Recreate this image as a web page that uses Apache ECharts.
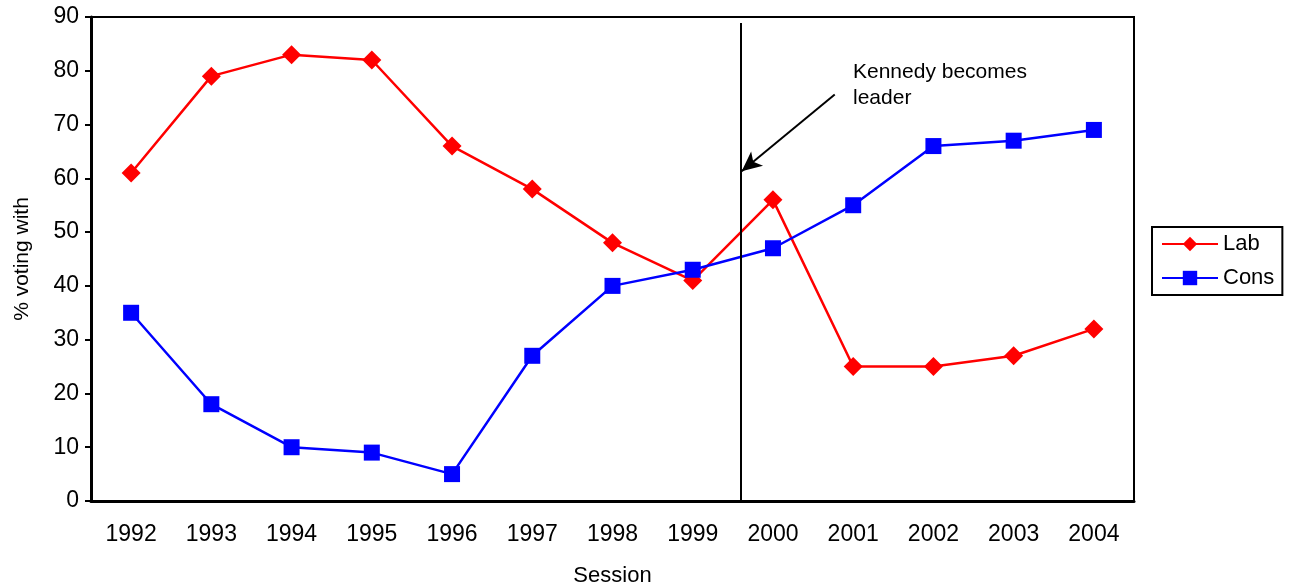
<!DOCTYPE html>
<html>
<head>
<meta charset="utf-8">
<script src="https://cdn.jsdelivr.net/npm/echarts@6/dist/echarts.min.js"></script>
<style>
  html, body { margin: 0; padding: 0; background: #fff; }
  #chart { width: 1294px; height: 586px; }
</style>
</head>
<body>
<div id="chart"></div>
<script>
const sessions = ["1992", "1993", "1994", "1995", "1996", "1997", "1998", "1999", "2000", "2001", "2002", "2003", "2004"];
const labValues = [61, 79, 83, 82, 66, 58, 48, 41, 56, 25, 25, 27, 32];
const consValues = [35, 18, 10, 9, 5, 27, 40, 43, 47, 55, 66, 67, 69];
// annotation: leadership change, in category-index / value units
const leaderLine = [[7.6, 88.9], [7.6, 0]];
const leaderArrow = [[8.77, 75.6], [7.61, 61.3]];
const leaderNote = "Kennedy becomes\nleader";

const chart = echarts.init(document.getElementById("chart"));
const font = "Liberation Sans, Arial, sans-serif";

const option = {
  animation: false,
  textStyle: { fontFamily: font },
  grid: {
    left: 91, right: 160, top: 17, bottom: 85,
    outerBoundsMode: "none",
    containLabel: false,
    show: true, borderColor: "#000", borderWidth: 2
  },
  legend: {
    data: ["Lab", "Cons"],
    orient: "vertical",
    left: 1152, top: 227,
    padding: [6, 8, 6, 9],
    borderColor: "#000", borderWidth: 2,
    itemWidth: 56, itemHeight: 18, itemGap: 12,
    textStyle: { fontSize: 22, color: "#000", fontFamily: font }
  },
  xAxis: [
    {
      type: "category",
      data: sessions,
      name: "Session",
      nameLocation: "middle",
      nameGap: 64,
      nameTextStyle: { fontSize: 22, color: "#000", fontFamily: font },
      axisLine: { lineStyle: { color: "#000", width: 3 } },
      axisTick: { show: false },
      axisLabel: { fontSize: 23, color: "#000", margin: 22, fontFamily: font },
      splitLine: { show: false }
    },
    {
      type: "value", min: -0.5, max: 12.5, show: false
    }
  ],
  yAxis: {
    type: "value",
    min: 0, max: 90, interval: 10,
    name: "% voting with",
    nameLocation: "middle",
    nameRotate: 90,
    nameGap: 58,
    nameTextStyle: { fontSize: 21, color: "#000", fontFamily: font },
    axisLine: { show: true, onZero: false, lineStyle: { color: "#000", width: 3 } },
    axisTick: { show: true, length: 6, lineStyle: { color: "#000", width: 2 } },
    axisLabel: { fontSize: 23, color: "#000", margin: 12, fontFamily: font },
    splitLine: { show: false }
  },
  series: [
    {
      name: "Lab",
      type: "line",
      data: labValues,
      symbol: "diamond",
      symbolSize: 19,
      color: "#ff0000",
      lineStyle: { width: 2.5, color: "#ff0000" },
      itemStyle: { color: "#ff0000" },
      z: 3
    },
    {
      name: "Cons",
      type: "line",
      data: consValues,
      symbol: "rect",
      symbolSize: 16,
      color: "#0000ff",
      lineStyle: { width: 2.5, color: "#0000ff" },
      itemStyle: { color: "#0000ff" },
      z: 4
    },
    {
      name: "annotation",
      type: "line",
      xAxisIndex: 1,
      data: [],
      silent: true,
      markLine: {
        silent: true,
        animation: false,
        label: { show: false },
        lineStyle: { color: "#000", type: "solid", width: 2 },
        emphasis: { disabled: true },
        data: [
          [
            { coord: leaderLine[0], symbol: "none" },
            { coord: leaderLine[1], symbol: "none" }
          ],
          [
            { coord: leaderArrow[0], symbol: "none" },
            { coord: leaderArrow[1], symbol: "arrow", symbolSize: [14, 20] }
          ]
        ]
      }
    }
  ],
  graphic: [
    {
      type: "text",
      left: 853, top: 59,
      style: { text: leaderNote, fontSize: 21, lineHeight: 26, fill: "#000", fontFamily: font }
    }
  ]
};

chart.setOption(option);
</script>
</body>
</html>
